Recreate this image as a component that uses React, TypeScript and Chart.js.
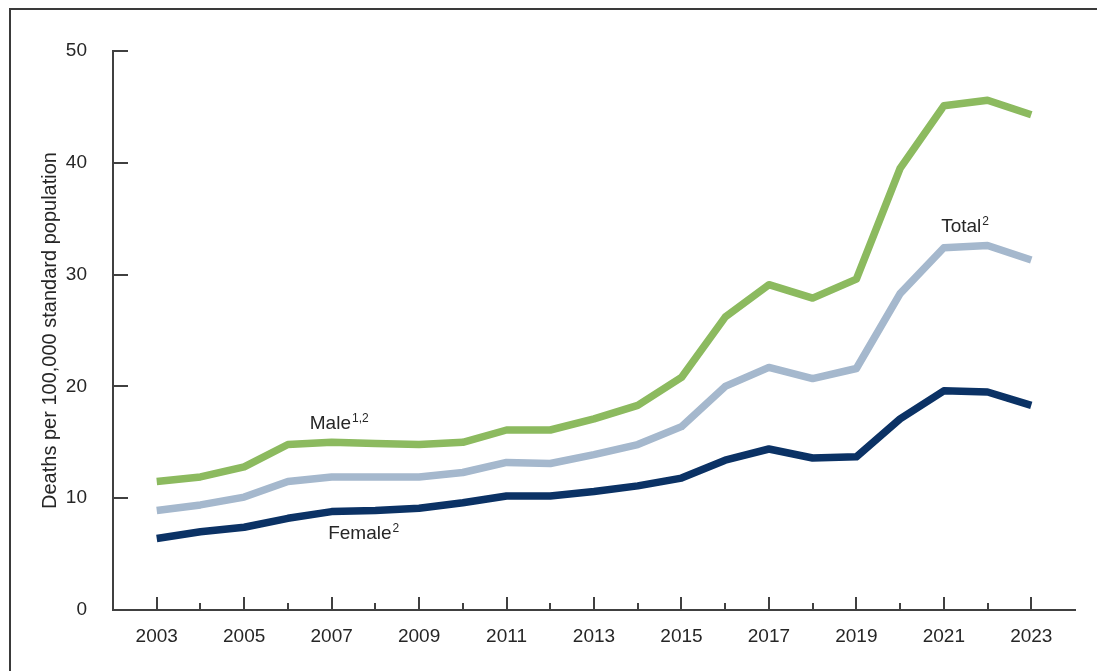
import React, { useEffect, useRef } from 'react';
import { Chart, registerables } from 'chart.js';

Chart.register(...registerables);

const years = [2003, 2004, 2005, 2006, 2007, 2008, 2009, 2010, 2011, 2012, 2013, 2014, 2015, 2016, 2017, 2018, 2019, 2020, 2021, 2022, 2023];
const male = [11.5, 11.9, 12.8, 14.8, 15.0, 14.9, 14.8, 15.0, 16.1, 16.1, 17.1, 18.3, 20.8, 26.2, 29.1, 27.9, 29.6, 39.5, 45.1, 45.6, 44.3];
const total = [8.9, 9.4, 10.1, 11.5, 11.9, 11.9, 11.9, 12.3, 13.2, 13.1, 13.9, 14.8, 16.4, 20.0, 21.7, 20.7, 21.6, 28.3, 32.4, 32.6, 31.3];
const female = [6.4, 7.0, 7.4, 8.2, 8.8, 8.9, 9.1, 9.6, 10.2, 10.2, 10.6, 11.1, 11.8, 13.4, 14.4, 13.6, 13.7, 17.1, 19.6, 19.5, 18.3];
const yTicks = [0, 10, 20, 30, 40, 50];
const labeledYears = [2003, 2005, 2007, 2009, 2011, 2013, 2015, 2017, 2019, 2021, 2023];
const yTitle = 'Deaths per 100,000 standard population';

const seriesLabels = [
  { text: 'Male', sup: '1,2', year: 2006.5, value: 16.2 },
  { text: 'Total', sup: '2', year: 2020.94, value: 33.8 },
  { text: 'Female', sup: '2', year: 2006.92, value: 6.35 },
];

const FONT = '"Liberation Sans", Arial, Helvetica, sans-serif';
const TEXT = '#262626';
const AXIS = '#404040';

const axisTicksPlugin = {
  id: 'axisTicks',
  afterDraw(chart: any) {
    const { ctx, chartArea, scales } = chart;
    const xs = scales.x;
    const ys = scales.y;
    ctx.save();
    ctx.strokeStyle = AXIS;
    ctx.lineWidth = 2;
    ctx.beginPath();
    yTicks.forEach((v) => {
      if (v === 0) return;
      const py = Math.round(ys.getPixelForValue(v));
      ctx.moveTo(chartArea.left, py);
      ctx.lineTo(chartArea.left + 15, py);
    });
    years.forEach((yr) => {
      const px = Math.round(xs.getPixelForValue(yr));
      const len = labeledYears.includes(yr) ? 13 : 7;
      ctx.moveTo(px, chartArea.bottom);
      ctx.lineTo(px, chartArea.bottom - len);
    });
    ctx.stroke();
    ctx.restore();
  },
};

const seriesLabelPlugin = {
  id: 'seriesLabels',
  afterDraw(chart: any) {
    const { ctx, scales } = chart;
    ctx.save();
    ctx.fillStyle = TEXT;
    ctx.textAlign = 'left';
    ctx.textBaseline = 'alphabetic';
    seriesLabels.forEach((l) => {
      const x = scales.x.getPixelForValue(l.year);
      const y = scales.y.getPixelForValue(l.value);
      ctx.font = `19px ${FONT}`;
      ctx.fillText(l.text, x, y);
      const w = ctx.measureText(l.text).width;
      ctx.font = `12px ${FONT}`;
      ctx.fillText(l.sup, x + w + 1, y - 7);
    });
    ctx.restore();
  },
};

export default function App() {
  const ref = useRef<HTMLCanvasElement | null>(null);

  useEffect(() => {
    if (!ref.current) return;
    const mk = (arr: number[]) => years.map((yr, i) => ({ x: yr, y: arr[i] }));
    const lineStyle = {
      pointRadius: 0,
      borderWidth: 7.5,
      tension: 0,
      borderJoinStyle: 'round' as const,
      borderCapStyle: 'butt' as const,
      fill: false,
    };
    const chart = new Chart(ref.current, {
      type: 'line',
      data: {
        datasets: [
          { label: 'Male', data: mk(male), borderColor: '#8cba5f', ...lineStyle },
          { label: 'Total', data: mk(total), borderColor: '#a5b8cd', ...lineStyle },
          { label: 'Female', data: mk(female), borderColor: '#0b3265', ...lineStyle },
        ],
      },
      options: {
        animation: false,
        responsive: false,
        maintainAspectRatio: false,
        layout: { padding: { left: 0, right: 22, top: 51, bottom: 0 } },
        plugins: {
          legend: { display: false },
          tooltip: { enabled: false },
          title: { display: false },
        },
        scales: {
          x: {
            type: 'linear',
            position: 'bottom',
            min: 2002,
            max: 2024,
            afterBuildTicks: (s: any) => {
              s.ticks = labeledYears.map((v) => ({ value: v }));
            },
            afterFit: (s: any) => {
              s.height = 61;
            },
            grid: { display: false },
            border: { display: true, color: AXIS, width: 2 },
            ticks: {
              callback: (v: any) => String(v),
              font: { family: FONT, size: 19 },
              color: TEXT,
              padding: 7,
              maxRotation: 0,
              autoSkip: false,
            },
          },
          y: {
            type: 'linear',
            position: 'left',
            min: 0,
            max: 50,
            afterBuildTicks: (s: any) => {
              s.ticks = yTicks.map((v) => ({ value: v }));
            },
            afterFit: (s: any) => {
              s.width = 113;
            },
            grid: { display: false },
            border: { display: true, color: AXIS, width: 2 },
            ticks: {
              font: { family: FONT, size: 19 },
              color: TEXT,
              padding: 18,
            },
            title: {
              display: true,
              text: yTitle,
              font: { family: FONT, size: 20 },
              color: TEXT,
              padding: { top: 38, bottom: 0 },
            },
          },
        },
      },
      plugins: [axisTicksPlugin, seriesLabelPlugin],
    });
    return () => chart.destroy();
  }, []);

  return (
    <>
      <div
        style={{
          position: 'fixed',
          left: 9,
          top: 8,
          width: 1300,
          height: 900,
          border: '2px solid #3a3a3a',
          background: '#fff',
        }}
      />
      <canvas
        ref={ref}
        width={1097}
        height={671}
        style={{ position: 'fixed', left: 0, top: 0, width: 1097, height: 671 }}
      />
    </>
  );
}
